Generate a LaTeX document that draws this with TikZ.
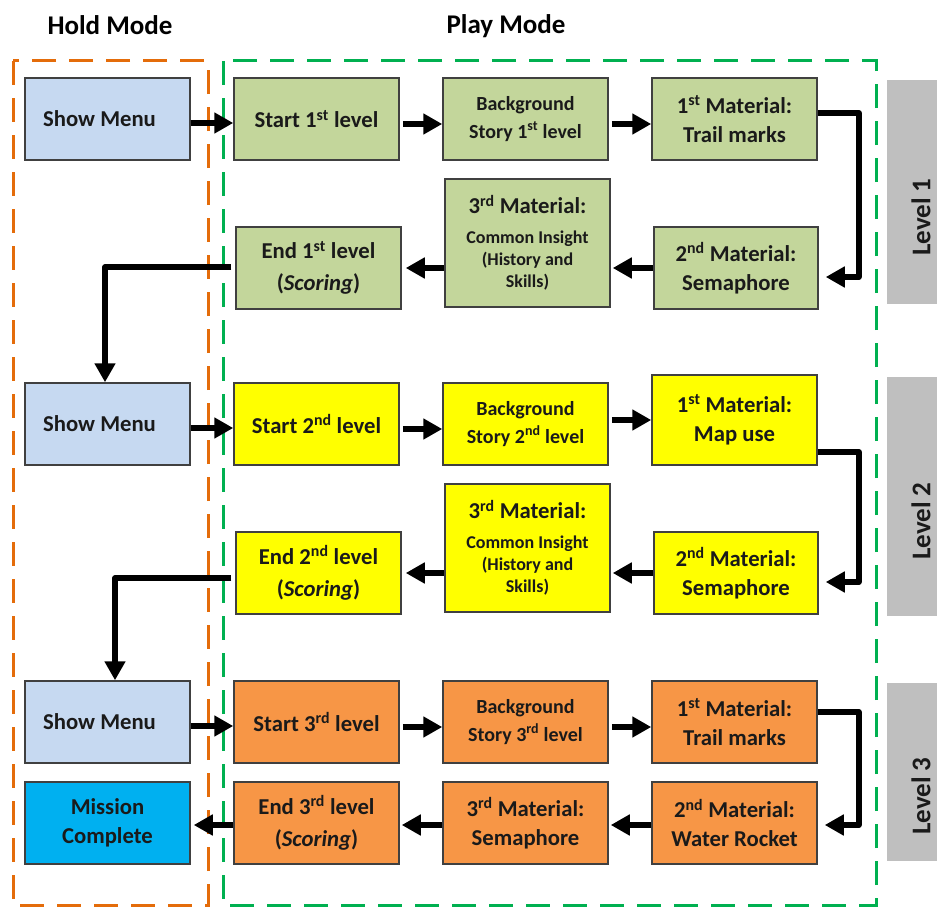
\documentclass[tikz,border=0pt]{standalone}
\usepackage{fontspec}
\setmainfont{Carlito}
\usetikzlibrary{arrows.meta}
\definecolor{cblue}{HTML}{C6D9F1}
\definecolor{cgreen}{HTML}{C3D69B}
\definecolor{cyell}{HTML}{FFFF00}
\definecolor{corng}{HTML}{F79646}
\definecolor{cmiss}{HTML}{00B0F0}
\definecolor{cgrey}{HTML}{BFBFBF}
\definecolor{dorng}{HTML}{E46C0A}
\definecolor{dgreen}{HTML}{00B050}
\definecolor{bline}{HTML}{404040}
\definecolor{txt}{HTML}{1A1A1A}
\newcommand{\smallf}{\fontsize{18}{22}\selectfont}
\newcommand{\bigf}{\fontsize{22.7}{29}\selectfont}
\begin{document}
\begin{tikzpicture}[x=1pt,y=-1pt,
  box/.style={draw=bline, line width=1.5pt, minimum width=165pt, minimum height=82pt,
    inner sep=0pt, align=center, text=txt, font=\bfseries\bigf},
  tall/.style={box, minimum height=128pt},
  bgbox/.style={box, font=\bfseries\fontsize{20}{28}\selectfont},
  arr/.style={line width=5.5pt, line join=round, -{Triangle[length=19pt,width=20pt]}},
  modebox/.style={line width=3pt, dash pattern=on 24pt off 13pt},
  title/.style={font=\bfseries\fontsize{27}{32}\selectfont, anchor=base, inner sep=0pt},
  lvltext/.style={font=\bfseries\fontsize{27}{32}\selectfont, rotate=90, inner sep=0pt, text=txt}]
\useasboundingbox (0,0) rectangle (937,907);

% titles
\node[title] (hold) at (110,35) {Hold Mode};
\node[title] (play) at (506,34) {Play Mode};

% mode frames
\draw[modebox, draw=dorng] (13,61) rectangle (208,905);
\draw[modebox, draw=dgreen] (223,61) rectangle (876,905);

% level bars
\fill[cgrey] (887,80) rectangle (937,304);
\fill[cgrey] (887,377) rectangle (937,616);
\fill[cgrey] (887,683) rectangle (937,861);
\node[lvltext] (lv1) at (921,217) {Level 1};
\node[lvltext] (lv2) at (921,521) {Level 2};
\node[lvltext] (lv3) at (921,796) {Level 3};

% ---- Level 1
\node[box, fill=cblue] (sm1) at (107.5,119) {Show Menu\hspace*{16pt}};
\node[box, fill=cgreen] (st1) at (316.5,119) {Start 1\textsuperscript{st} level};
\node[bgbox, fill=cgreen] (bg1) at (525.5,119) {Background\\Story 1\textsuperscript{st} level};
\node[box, fill=cgreen] (m11) at (734.5,119) {1\textsuperscript{st} Material:\\Trail marks};
\node[box, fill=cgreen, minimum width=164pt] (m12) at (736,268) {2\textsuperscript{nd} Material:\\Semaphore};
\node[tall, fill=cgreen, font=\bfseries\smallf] (m13) at (527.5,243) {{\bigf 3\textsuperscript{rd} Material:}\\[8pt]Common Insight\\(History and\\Skills)};
\node[box, fill=cgreen] (en1) at (318.5,268) {End 1\textsuperscript{st} level\\[3pt](\textit{Scoring})};

% ---- Level 2
\node[box, fill=cblue] (sm2) at (107.5,424) {Show Menu\hspace*{16pt}};
\node[box, fill=cyell] (st2) at (316.5,424) {Start 2\textsuperscript{nd} level};
\node[bgbox, fill=cyell] (bg2) at (525.5,424) {Background\\Story 2\textsuperscript{nd} level};
\node[box, fill=cyell, minimum height=90pt] (m21) at (734.5,420) {1\textsuperscript{st} Material:\\Map use};
\node[box, fill=cyell, minimum width=164pt] (m22) at (736,573) {2\textsuperscript{nd} Material:\\Semaphore};
\node[tall, fill=cyell, font=\bfseries\smallf] (m23) at (527.5,548) {{\bigf 3\textsuperscript{rd} Material:}\\[8pt]Common Insight\\(History and\\Skills)};
\node[box, fill=cyell] (en2) at (318.5,573) {End 2\textsuperscript{nd} level\\[3pt](\textit{Scoring})};

% ---- Level 3
\node[box, fill=cblue] (sm3) at (107.5,722) {Show Menu\hspace*{16pt}};
\node[box, fill=corng] (st3) at (316.5,722) {Start 3\textsuperscript{rd} level};
\node[bgbox, fill=corng] (bg3) at (525.5,722) {Background\\Story 3\textsuperscript{rd} level};
\node[box, fill=corng] (m31) at (734.5,722) {1\textsuperscript{st} Material:\\Trail marks};
\node[box, fill=corng] (m32) at (734.5,823) {2\textsuperscript{nd} Material:\\Water Rocket};
\node[box, fill=corng] (m33) at (525.5,823) {3\textsuperscript{rd} Material:\\Semaphore};
\node[box, fill=corng] (en3) at (316.5,823) {End 3\textsuperscript{rd} level\\[3pt](\textit{Scoring})};
\node[box, fill=cmiss] (mc) at (107.5,823) {Mission\\Complete};

% ---- arrows level 1
\draw[arr] ([yshift=-4pt]sm1.east) -- ([yshift=-4pt]st1.west);
\draw[arr, shorten <=3pt] ([yshift=-5pt]st1.east) -- ([yshift=-5pt]bg1.west);
\draw[arr, shorten <=3pt] ([yshift=-5pt]bg1.east) -- ([yshift=-5pt]m11.west);
\draw[arr, shorten >=7pt] ([yshift=6pt]m11.east) -- ++(41,0) |- ([yshift=-9pt]m12.east);
\draw[arr, shorten >=2pt] (m12.west) -- (m13.east |- m12.west);
\draw[arr, shorten >=4pt] (m13.west |- en1.east) -- (en1.east);
\draw[arr, shorten <=4pt] ([yshift=1pt]en1.west) -| ([xshift=-2.5pt]sm2.north);

% ---- arrows level 2
\draw[arr] ([yshift=-4pt]sm2.east) -- ([yshift=-4pt]st2.west);
\draw[arr, shorten <=3pt] ([yshift=-5pt]st2.east) -- ([yshift=-5pt]bg2.west);
\draw[arr, shorten <=3pt] (bg2.east |- m21.center) -- (m21.west);
\draw[arr, shorten >=7pt] ([yshift=-32pt]m21.east) -- ++(41,0) |- ([yshift=-9pt]m22.east);
\draw[arr, shorten >=2pt] (m22.west) -- (m23.east |- m22.west);
\draw[arr, shorten >=4pt] (m23.west |- en2.east) -- (en2.east);
\draw[arr, shorten <=4pt] ([yshift=-5pt]en2.west) -| ([xshift=7.5pt]sm3.north);

% ---- arrows level 3
\draw[arr] ([yshift=-4pt]sm3.east) -- ([yshift=-4pt]st3.west);
\draw[arr, shorten <=3pt] ([yshift=-5pt]st3.east) -- ([yshift=-5pt]bg3.west);
\draw[arr, shorten <=3pt] ([yshift=-5pt]bg3.east) -- ([yshift=-5pt]m31.west);
\draw[arr, shorten >=7pt] ([yshift=10pt]m31.east) -- ++(41,0) |- ([yshift=-2pt]m32.east);
\draw[arr, shorten >=2pt] ([yshift=-2pt]m32.west) -- ([yshift=-2pt]m33.east);
\draw[arr, shorten >=2pt] ([yshift=-2pt]m33.west) -- ([yshift=-2pt]en3.east);
\draw[arr, shorten >=3pt] ([yshift=-2pt]en3.west) -- ([yshift=-2pt]mc.east);
\end{tikzpicture}
\end{document}
